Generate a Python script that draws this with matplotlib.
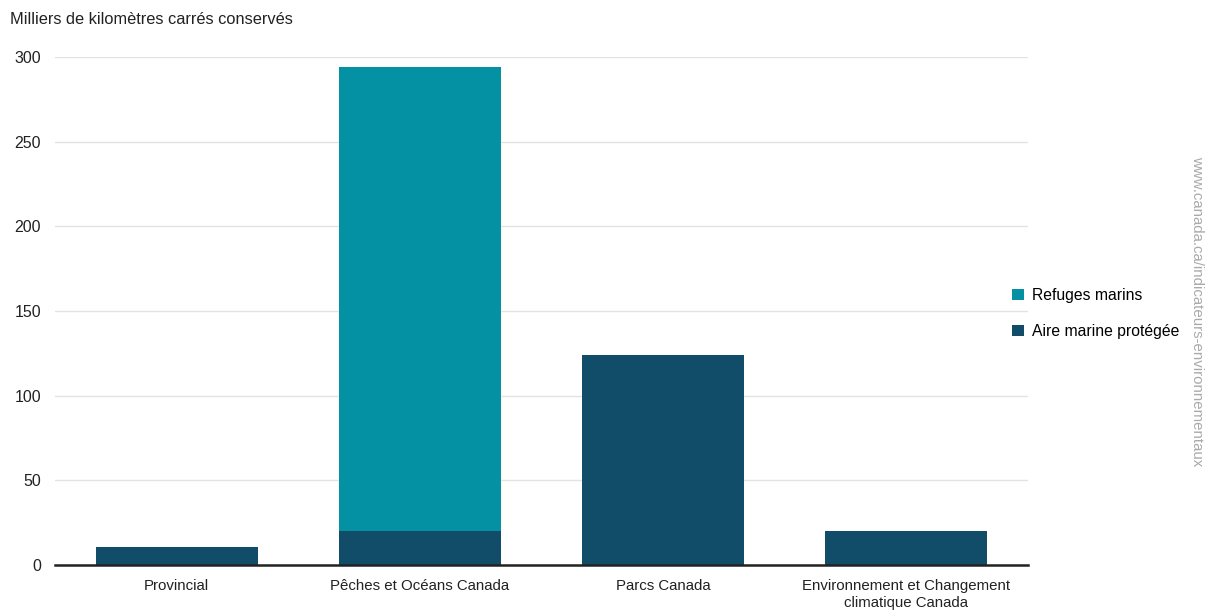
import matplotlib.pyplot as plt

plt.rcParams['font.family'] = ['Liberation Sans', 'DejaVu Sans']

categories = ["Provincial", "Pêches et Océans Canada", "Parcs Canada",
              "Environnement et Changement\nclimatique Canada"]
aire_marine = [10.5, 20, 124, 20]
refuges = [0, 274, 0, 0]

dark = "#114c69"
teal = "#0391a3"

fig = plt.figure(figsize=(12.1, 6.11), dpi=100)
ax = fig.add_axes([0.0455, 0.0753, 0.804, 0.8314])

x = range(len(categories))
ax.bar(x, aire_marine, width=0.665, color=dark, label="Aire marine protégée", zorder=2)
ax.bar(x, refuges, width=0.665, bottom=aire_marine, color=teal, label="Refuges marins", zorder=2)

ax.set_xlim(-0.5, 3.5)
ax.set_ylim(0, 300)
ax.set_yticks(range(0, 301, 50))
ax.set_xticks(list(x))
ax.set_xticklabels(categories, fontsize=10.8, color="#222222", linespacing=1.25)
ax.tick_params(axis="y", labelsize=11.5, colors="#222222", length=0, pad=10)
ax.tick_params(axis="x", length=0, pad=10)
ax.grid(axis="y", color="#e3e3e3", linewidth=1, zorder=0)

for s in ["top", "right", "left"]:
    ax.spines[s].set_visible(False)
ax.spines["bottom"].set_color("#222222")
ax.spines["bottom"].set_linewidth(1.8)
ax.spines["bottom"].set_zorder(3)

fig.text(0.008, 0.968, "Milliers de kilomètres carrés conservés", fontsize=11.8,
         color="#222222", ha="left", va="center")

handles, labels = ax.get_legend_handles_labels()
fig.legend(handles[::-1], labels[::-1], loc="center left", bbox_to_anchor=(0.825, 0.487),
           frameon=False, fontsize=11.3, handlelength=0.75, handleheight=0.75,
           handletextpad=0.5, labelspacing=1.35)

fig.text(0.989, 0.49, "www.canada.ca/indicateurs-environnementaux", rotation=270,
         fontsize=10.8, color="#aaaaaa", ha="center", va="center")

fig.savefig("out.png", dpi=100)
